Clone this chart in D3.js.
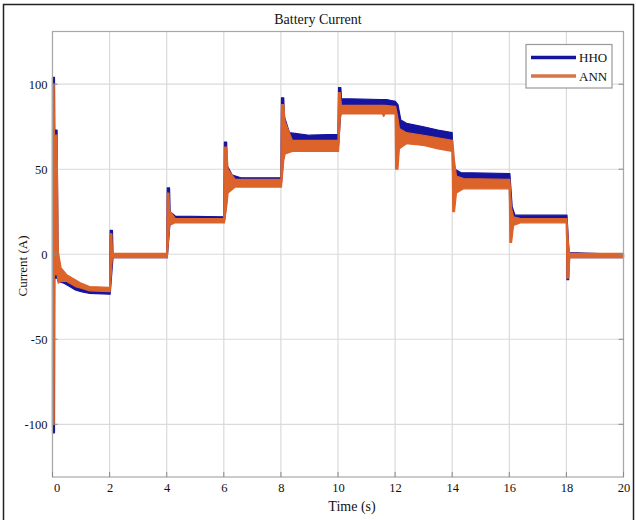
<!DOCTYPE html>
<html>
<head>
<meta charset="utf-8">
<script src="https://cdn.jsdelivr.net/npm/d3@7"></script>
<style>
  html, body { margin: 0; padding: 0; background: #fff; }
  svg { display: block; }
</style>
</head>
<body>
<svg width="636" height="520"></svg>
<script>
// time ticks / current ticks
const xTicks = [0, 2, 4, 6, 8, 10, 12, 14, 16, 18, 20]
const yTicks = [-100, -50, 0, 50, 100]

// HHO band: time, lower edge, upper edge (A)
const hhoT  = [0, 0.07, 0.08, 0.16, 0.2, 0.4, 0.6, 0.8, 1.0, 1.3, 2.0, 2.02, 2.1, 2.12, 4.0, 4.02, 4.1, 4.12, 4.3, 6.0, 6.02, 6.1, 6.12, 6.3, 6.6, 8.0, 8.02, 8.1, 8.12, 8.3, 9.0, 10.0, 10.02, 10.1, 10.12, 11.5, 11.6, 11.7, 12.0, 12.1, 12.2, 12.4, 13.0, 13.5, 14.0, 14.02, 14.1, 14.3, 16.0, 16.02, 16.1, 16.2, 18.0, 18.02, 18.08, 18.1, 20]
const hhoLo = [-105, -105, -14, -14, -16, -17, -19, -21, -22, -23, -23.5, -23.5, -6, -2, -2, -2, 15, 18, 19, 19, 19, 30, 40, 42, 42, 42, 42, 58, 62, 64, 64, 64, 64, 84, 86, 86, 84, 86, 86, 70, 70, 68, 66, 65, 64, 40, 38, 42, 42, 20, 20, 20, 20, -15, -15, -2, -2]
const hhoHi = [104, 104, 73, 73, -9, -13, -15, -17, -19, -20.5, -21, 14, 14, 0, 0, 39, 39, 25, 22.5, 22, 66, 66, 52, 46.5, 45, 45, 92, 92, 81, 71.5, 70, 70.5, 98, 98, 91.5, 91, 91, 91, 90, 88, 79, 77, 75, 73, 71.5, 58, 50, 48, 47.5, 47.5, 28, 23, 23, 23, 5, 1, 0]

// ANN band: time, lower edge, upper edge (A)
const annT  = [0, 0.06, 0.07, 0.16, 0.2, 0.3, 0.5, 0.8, 1.0, 1.3, 2.0, 2.02, 2.08, 2.1, 4.0, 4.02, 4.08, 4.1, 4.3, 6.0, 6.02, 6.1, 6.15, 6.4, 8.0, 8.02, 8.1, 8.15, 8.4, 10.0, 10.02, 10.08, 10.12, 11.55, 11.6, 11.65, 12.0, 12.02, 12.1, 12.15, 12.4, 13.0, 13.5, 14.0, 14.02, 14.08, 14.15, 14.4, 16.0, 16.02, 16.08, 16.15, 16.4, 18.0, 18.02, 18.08, 18.12, 20]
const annLo = [-100, -100, -12, -12, -17, -16, -16, -19, -20, -21.5, -22, -22, -6, -2, -2, -2, 12, 17, 18.5, 18.5, 18.5, 28, 36, 39.5, 39.5, 39.5, 55, 59, 60.5, 60.5, 60.5, 80, 82.5, 82.5, 81, 82.5, 82.5, 50, 50, 62, 65, 64, 62, 60.5, 25, 25, 36, 38.5, 38.5, 7, 7, 17, 18.5, 18.5, -14, -14, -2, -2]
const annHi = [100, 100, 70, 70, 2, -8, -12, -15, -17, -19, -19.5, 12, 12, 0.5, 0.5, 36, 36, 26, 21, 21, 63, 63, 50, 44, 44, 88, 88, 78, 67, 67, 95, 95, 87.5, 87.5, 87.5, 87.5, 87, 87, 80, 74, 71.5, 70, 68.5, 67, 67, 55, 46, 44.5, 44, 44, 27, 22, 21, 21, 21, 4, 0.5, 0.5]

const seriesNames = ["HHO", "ANN"]
const seriesColors = ["#14149e", "#dc6329"]

const svg = d3.select("svg")
const font = "'Liberation Serif', 'Times New Roman', serif"

const pLeft = 52.5, pRight = 623.5, pTop = 31.5, pBottom = 477

const x = d3.scaleLinear().domain([0, 20]).range([pLeft, pRight])
const y = d3.scaleLinear().domain([-131, 131]).range([pBottom, pTop])

// outer frame
svg.append("rect")
    .attr("x", 3.5).attr("y", 4.5)
    .attr("width", 630).attr("height", 520)
    .attr("fill", "none")
    .attr("stroke", "#222")
    .attr("stroke-width", 1.5)

// grid
const grid = svg.append("g")
    .attr("stroke", "#dadada")
    .attr("stroke-width", 1.2)
grid.selectAll(".gx").data(xTicks).enter().append("line")
    .attr("x1", d => x(d)).attr("x2", d => x(d))
    .attr("y1", pTop).attr("y2", pBottom)
grid.selectAll(".gy").data(yTicks).enter().append("line")
    .attr("x1", pLeft).attr("x2", pRight)
    .attr("y1", d => y(d)).attr("y2", d => y(d))

// data bands
const band = (T, lo, hi) => d3.area()
    .x((d, i) => x(T[i]))
    .y0((d, i) => y(lo[i]))
    .y1((d, i) => y(hi[i]))(T)

const bands = [[hhoT, hhoLo, hhoHi], [annT, annLo, annHi]]
svg.append("g").selectAll("path")
  .data(bands)
  .enter().append("path")
    .attr("d", d => band(d[0], d[1], d[2]))
    .attr("fill", (d, i) => seriesColors[i])
    .attr("stroke", (d, i) => seriesColors[i])
    .attr("stroke-width", 1.2)
    .attr("stroke-linejoin", "round")

// box + inward ticks
svg.append("rect")
    .attr("x", pLeft).attr("y", pTop)
    .attr("width", pRight - pLeft).attr("height", pBottom - pTop)
    .attr("fill", "none")
    .attr("stroke", "#a8a8a8")
    .attr("stroke-width", 1.2)

const ticks = svg.append("g").attr("stroke", "#8a8a8a").attr("stroke-width", 1)
ticks.selectAll(".ty").data(yTicks).enter().append("line")
    .attr("x1", pRight - 5).attr("x2", pRight)
    .attr("y1", d => y(d)).attr("y2", d => y(d))
ticks.selectAll(".ty2").data(yTicks).enter().append("line")
    .attr("x1", pLeft).attr("x2", pLeft + 5)
    .attr("y1", d => y(d)).attr("y2", d => y(d))
ticks.selectAll(".tx").data(xTicks).enter().append("line")
    .attr("x1", d => x(d)).attr("x2", d => x(d))
    .attr("y1", pBottom - 5).attr("y2", pBottom)

// axes labels (plain hyphen minus, like the figure)
const xAxis = svg.append("g")
    .attr("transform", `translate(0,${pBottom})`)
    .call(d3.axisBottom(x).tickValues(xTicks).tickSize(0).tickPadding(6)
      .tickFormat(d => String(d)))
const yAxis = svg.append("g")
    .attr("transform", `translate(${pLeft},0)`)
    .call(d3.axisLeft(y).tickValues(yTicks).tickSize(0).tickPadding(5)
      .tickFormat(d => String(d)))
;[xAxis, yAxis].forEach(a => {
  a.select(".domain").remove()
  a.selectAll("text")
      .attr("font-family", font)
      .attr("font-size", 12.5)
      .attr("fill", "#111")
})
xAxis.selectAll("text").filter(d => d === 0).attr("dx", 4)

svg.append("text")
    .attr("x", 318).attr("y", 24)
    .attr("text-anchor", "middle")
    .attr("font-family", font).attr("font-size", 14)
    .attr("fill", "#111")
    .text("Battery Current")

svg.append("text")
    .attr("x", 352).attr("y", 511)
    .attr("text-anchor", "middle")
    .attr("font-family", font).attr("font-size", 14)
    .attr("fill", "#111")
    .text("Time (s)")

svg.append("text")
    .attr("transform", "translate(27,266) rotate(-90)")
    .attr("text-anchor", "middle")
    .attr("font-family", font).attr("font-size", 13)
    .attr("fill", "#111")
    .text("Current (A)")

// legend
const legend = svg.append("g")
legend.append("rect")
    .attr("x", 526).attr("y", 44.5)
    .attr("width", 86).attr("height", 43.5)
    .attr("fill", "#fff")
    .attr("stroke", "#999")
    .attr("stroke-width", 1.2)
const item = legend.selectAll(".item")
  .data(seriesNames)
  .enter().append("g")
    .attr("transform", (d, i) => `translate(0,${57.5 + i * 18.5})`)
item.append("line")
    .attr("x1", 531).attr("x2", 576)
    .attr("stroke", (d, i) => i ? "#d3764a" : seriesColors[i])
    .attr("stroke-width", 3.5)
item.append("text")
    .attr("x", 579).attr("dy", "0.35em")
    .attr("font-family", font).attr("font-size", 13)
    .attr("fill", "#111")
    .text(d => d)
</script>
</body>
</html>
